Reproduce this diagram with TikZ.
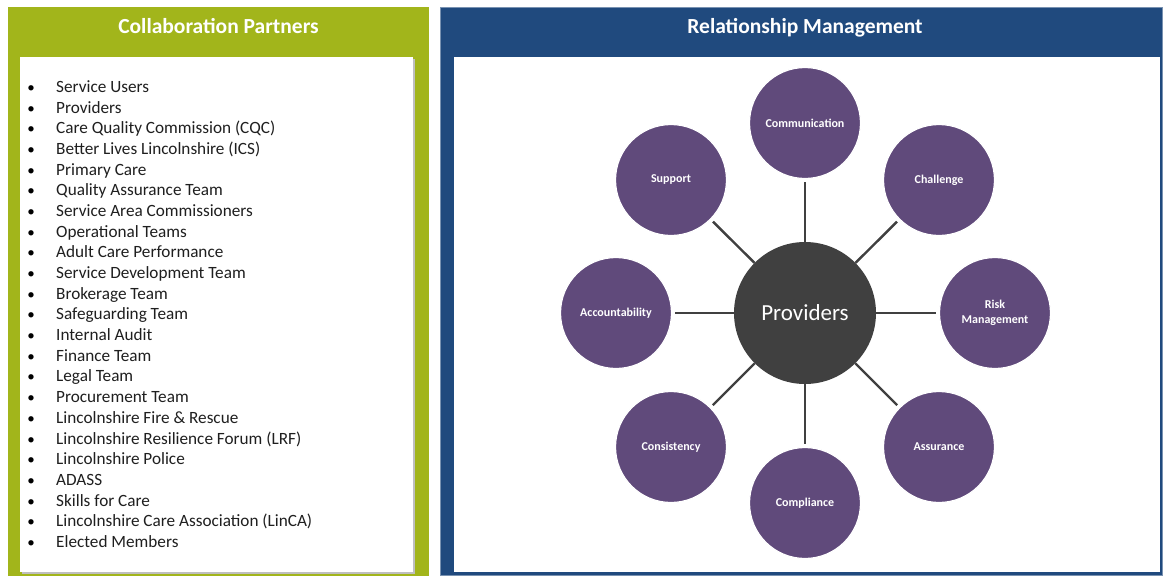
\documentclass[tikz,border=0pt]{standalone}
\usepackage{fontspec}
\setmainfont{Carlito}
\definecolor{panelgreen}{RGB}{162,181,27}
\definecolor{panelblue}{RGB}{32,74,126}
\definecolor{ringpurple}{RGB}{96,74,123}
\definecolor{hubgrey}{RGB}{64,64,64}
\tikzset{
  paneltitle/.style={anchor=base, text=white, font=\bfseries\fontsize{21.5}{24}\selectfont, inner sep=0pt},
  listitem/.style={anchor=west, inner sep=0pt, text height=12pt, text depth=3.5pt,
                   font=\fontsize{17.2}{20}\selectfont, text=black!88},
  bulletmark/.style={inner sep=0pt, text height=12pt, text depth=3.5pt,
                   font=\fontsize{15}{18}\selectfont},
  hub/.style={circle, fill=hubgrey, minimum size=142pt, inner sep=0pt,
              text=white, font=\fontsize{23}{26}\selectfont},
  spoke/.style={circle, fill=ringpurple, draw=white, line width=1.2pt,
                minimum size=111pt, inner sep=0pt, align=center,
                text=white, font=\bfseries\fontsize{12}{14.5}\selectfont},
  link/.style={draw=hubgrey, line width=2.4pt, shorten >=3pt}
}
\begin{document}
\begin{tikzpicture}[x=1pt, y=-1pt]
\useasboundingbox (0,0) rectangle (1163,576);

% left panel: collaboration partners
\fill[panelgreen] (8,7) rectangle (429,576);
\fill[black!25] (21.5,58.5) rectangle (414.5,573.5);
\fill[white] (20,57) rectangle (413,572);
\node[paneltitle] (ltitle) at (218.5,33.5) {Collaboration Partners};

\foreach \t [count=\i] in {
  Service Users,
  Providers,
  Care Quality Commission (CQC),
  Better Lives Lincolnshire (ICS),
  Primary Care,
  Quality Assurance Team,
  Service Area Commissioners,
  Operational Teams,
  Adult Care Performance,
  Service Development Team,
  Brokerage Team,
  Safeguarding Team,
  Internal Audit,
  Finance Team,
  Legal Team,
  Procurement Team,
  Lincolnshire Fire \& Rescue,
  Lincolnshire Resilience Forum (LRF),
  Lincolnshire Police,
  ADASS,
  Skills for Care,
  Lincolnshire Care Association (LinCA),
  Elected Members}
{
  \node[bulletmark] (b\i) at (31,{88.2+20.68*(\i-1)}) {•};
  \node[listitem] (item\i) at (56,{88.2+20.68*(\i-1)}) {\t};
}

% right panel: relationship management
\fill[panelblue] (440,7) rectangle (1163,576);
\draw[panelblue!60!white, line width=0.8pt] (440.4,7.4) rectangle (1162.6,575.6);
\fill[white] (454,57) rectangle (1160,572);
\node[paneltitle] (rtitle) at (805,33.5) {Relationship Management};

\node[hub] (hub) at (805,313) {Providers};
\node[spoke] (comm)  at (805,123) {Communication};
\node[spoke] (chal)  at (939,180) {Challenge};
\node[spoke] (risk)  at (995,313) {Risk\\Management};
\node[spoke] (assu)  at (939,447) {Assurance};
\node[spoke] (compl) at (805,503) {Compliance};
\node[spoke] (cons)  at (671,447) {Consistency};
\node[spoke] (acc)   at (616,313) {Accountability};
\node[spoke] (supp)  at (671,180) {Support};

\foreach \s in {comm,chal,risk,assu,compl,cons,acc,supp}
  \draw[link] (hub) -- (\s);
\end{tikzpicture}
\end{document}
